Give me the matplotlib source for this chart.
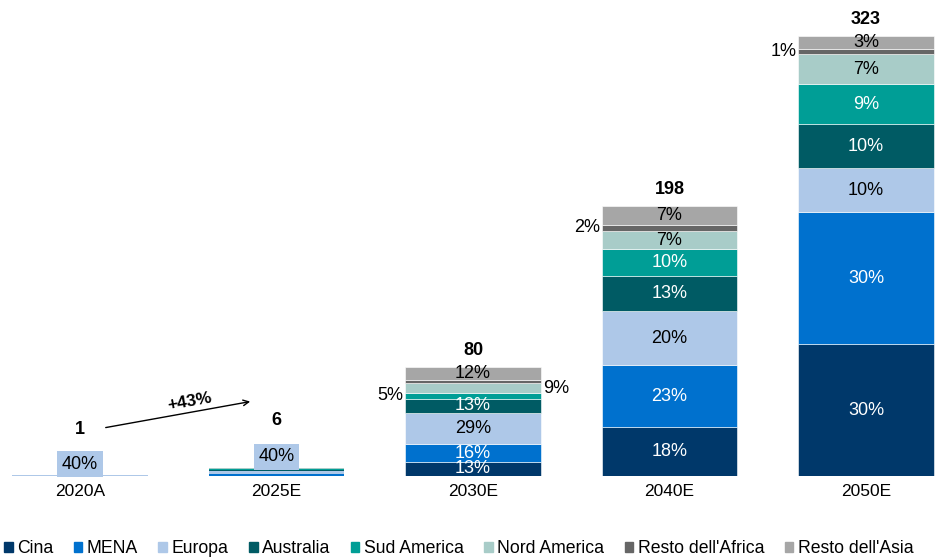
import numpy as np
import matplotlib.pyplot as plt
from matplotlib.patches import Patch

plt.rcParams['font.family'] = ['Liberation Sans', 'DejaVu Sans']

# Dati: totali per anno e quota percentuale di ogni regione
anni = ['2020A', '2025E', '2030E', '2040E', '2050E']
totali = [1, 6, 80, 198, 323]
regioni = ['Cina', 'MENA', 'Europa', 'Australia', 'Sud America',
           'Nord America', "Resto dell'Africa", "Resto dell'Asia"]
quote = {
    'Cina':              [0, 5, 13, 18, 30],
    'MENA':              [0, 15, 16, 23, 30],
    'Europa':            [40, 40, 29, 20, 10],
    'Australia':         [0, 10, 13, 13, 10],
    'Sud America':       [20, 15, 5, 10, 9],
    'Nord America':      [40, 10, 9, 7, 7],
    "Resto dell'Africa": [0, 0, 3, 2, 1],
    "Resto dell'Asia":   [0, 5, 12, 7, 3],
}
colori = ['#00386A', '#0071CE', '#AEC8E8', '#005B64', '#009E96',
          '#A8CCC8', '#666666', '#A6A6A6']
testo_bianco = {'Cina', 'MENA', 'Australia', 'Sud America'}

# etichette esterne: (indice anno, regione, lato)
etichette_esterne = [(2, 'Sud America', 'sx'), (2, 'Nord America', 'dx'),
                     (3, "Resto dell'Africa", 'sx'), (4, "Resto dell'Africa", 'sx')]

FS = 13

fig = plt.figure(figsize=(9.5, 5.57), dpi=100)
ax = fig.add_axes([0, 81 / 557, 1, 476 / 557])

x = np.arange(len(anni))
larghezza = 0.69
bordi = [0, 0, 0.4, 0.4, 0.4]
base = np.zeros(len(anni))
for reg, col in zip(regioni, colori):
    valori = np.array(totali) * np.array(quote[reg]) / 100
    ax.bar(x, valori, larghezza, bottom=base, color=col,
           edgecolor='white', linewidth=bordi)
    for i in range(len(anni)):
        if valori[i] >= 9:
            ax.text(x[i], base[i] + valori[i] / 2, f'{quote[reg][i]}%',
                    ha='center', va='center', fontsize=FS,
                    color='white' if reg in testo_bianco else 'black')
    for i, r, lato in etichette_esterne:
        if r == reg:
            yc = base[i] + valori[i] / 2
            if lato == 'sx':
                ax.text(x[i] - larghezza / 2 - 0.01, yc, f'{quote[reg][i]}%',
                        ha='right', va='center', fontsize=FS)
            else:
                ax.text(x[i] + larghezza / 2 + 0.01, yc, f'{quote[reg][i]}%',
                        ha='left', va='center', fontsize=FS)
    base += valori

# quota Europa per le barre piccole, in un riquadro
for i, yc in [(0, 8.8), (1, 14)]:
    ax.text(x[i], yc, f"{quote['Europa'][i]}%", ha='center', va='center',
            fontsize=FS,
            bbox=dict(boxstyle='square,pad=0.25', fc=colori[2], ec='none'))

# totali in grassetto
pos_totali = [34.5, 40.4] + [t + 12.5 for t in totali[2:]]
for i, t in enumerate(totali):
    ax.text(x[i], pos_totali[i], str(t), ha='center', va='center',
            fontsize=FS, fontweight='bold')

# freccia di crescita
ax.annotate('', xy=(0.88, 55), xytext=(0.117, 35.2),
            arrowprops=dict(arrowstyle='->', color='black', lw=1.0))
ax.text(0.56, 54.5, '+43%', ha='center', va='center', fontsize=12.5,
        fontweight='bold', rotation=10)

ax.set_xlim(-80 / 196.5, (950 - 80) / 196.5)
ax.set_ylim(0, 476 / 1.362)
ax.set_xticks(x)
ax.set_xticklabels(anni, fontsize=12.5)
ax.tick_params(axis='x', length=0, pad=6)
ax.set_yticks([])
for s in ax.spines.values():
    s.set_visible(False)

handles = [Patch(color=c, label=r) for r, c in zip(regioni, colori)]
fig.legend(handles=handles, loc='center left', bbox_to_anchor=(0.004, 0.0144),
           ncol=8, frameon=False, fontsize=12.7, handlelength=0.5,
           handleheight=0.5, handletextpad=0.25, columnspacing=1.15,
           borderaxespad=0, borderpad=0)

fig.savefig('out.png', dpi=100)
